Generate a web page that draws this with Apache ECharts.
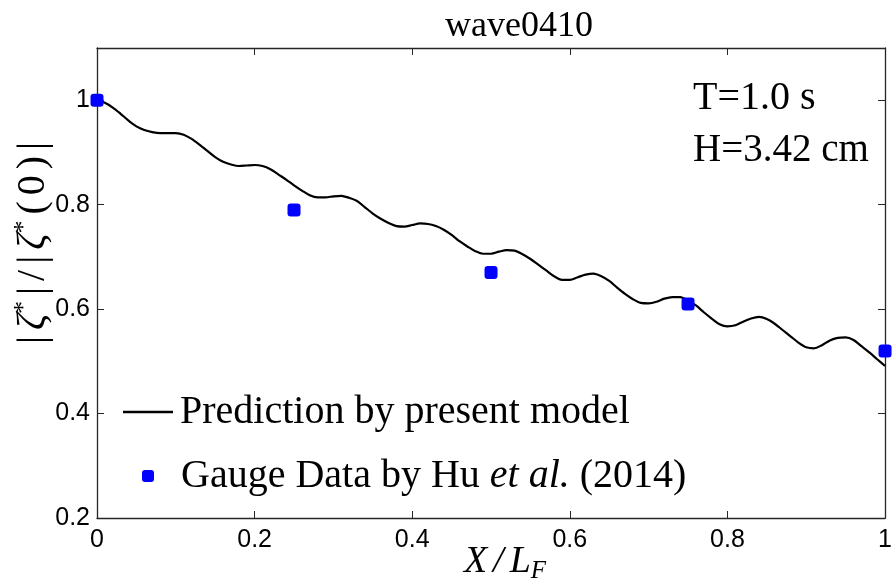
<!DOCTYPE html>
<html>
<head>
<meta charset="utf-8">
<script src="https://cdn.jsdelivr.net/npm/echarts@6/dist/echarts.min.js"></script>
<style>
html,body{margin:0;padding:0;background:#fff;}
#chart{width:895px;height:581px;}
</style>
</head>
<body>
<div id="chart"></div>
<script>
// Prediction curve sampled at X/L_F = 0.00, 0.01, ..., 1.00
const predStep = 0.01;
const predValues = [
  1.000, 0.995, 0.986, 0.974, 0.961, 0.950, 0.943, 0.939, 0.937, 0.937,
  0.937, 0.934, 0.926, 0.915, 0.903, 0.891, 0.882, 0.877, 0.874, 0.875,
  0.876, 0.874, 0.868, 0.858, 0.848, 0.837, 0.827, 0.818, 0.814, 0.814,
  0.816, 0.817, 0.813, 0.807, 0.795, 0.783, 0.773, 0.765, 0.759, 0.758,
  0.761, 0.764, 0.763, 0.759, 0.752, 0.742, 0.730, 0.720, 0.711, 0.706,
  0.706, 0.710, 0.713, 0.712, 0.705, 0.696, 0.685, 0.674, 0.663, 0.656,
  0.656, 0.661, 0.666, 0.668, 0.663, 0.654, 0.641, 0.629, 0.619, 0.612,
  0.611, 0.614, 0.620, 0.623, 0.623, 0.616, 0.607, 0.594, 0.582, 0.571,
  0.567, 0.569, 0.576, 0.582, 0.585, 0.581, 0.572, 0.560, 0.548, 0.536,
  0.527, 0.525, 0.531, 0.540, 0.545, 0.546, 0.541, 0.529, 0.517, 0.504,
  0.491
];
const gaugeX = [0, 0.25, 0.5, 0.75, 1.0];
const gaugeY = [1.0, 0.79, 0.67, 0.61, 0.52];
const xTicks = [0, 0.2, 0.4, 0.6, 0.8, 1];
const yTicks = [0.2, 0.4, 0.6, 0.8, 1];
const titleText = 'wave0410';
const lineName = 'Prediction by present model';
const gaugeName = 'Gauge Data by Hu et al. (2014)';
const noteLines = ['T=1.0 s', 'H=3.42 cm'];

const predData = predValues.map((v, i) => [+(i * predStep).toFixed(2), v]);
const gaugeData = gaugeX.map((x, i) => [x, gaugeY[i]]);

const serif = '"Liberation Serif", "DejaVu Serif", serif';
const sans = '"Liberation Sans", Arial, sans-serif';
const axisColor = '#262626';

const chart = echarts.init(document.getElementById('chart'), null, {renderer: 'canvas'});
const fmt = v => {
  const r = Math.round(v * 10) / 10;
  return yTicks.concat(xTicks).some(t => Math.abs(t - r) < 1e-9) ? String(+r.toFixed(1)) : '';
};
const commonTick = {show: true, inside: true, length: 7, lineStyle: {color: axisColor, width: 1}};
const commonLine = {show: true, onZero: false, lineStyle: {color: axisColor, width: 1.3}};

const txt = (fs, extra) => Object.assign({fontFamily: serif, fontSize: fs, fill: '#000', color: '#000'}, extra || {});

chart.setOption({
  animation: false,
  backgroundColor: '#fff',
  grid: {left: 97, right: 3, top: 48, bottom: 63, containLabel: false},
  title: {
    text: titleText, left: 514, top: 4, textAlign: 'center',
    textStyle: {fontFamily: serif, fontSize: 36, fontWeight: 'normal', color: '#000'}
  },
  xAxis: [{
    type: 'value', min: 0, max: 1, interval: 0.2, position: 'bottom',
    axisLine: commonLine, axisTick: commonTick, splitLine: {show: false},
    axisLabel: {show: true, margin: 10, fontFamily: sans, fontSize: 25, color: '#000', formatter: fmt}
  }, {
    type: 'value', min: 0, max: 1, interval: 0.2, position: 'top',
    axisLine: commonLine, axisTick: commonTick, splitLine: {show: false},
    axisLabel: {show: false}
  }],
  yAxis: [{
    type: 'value', min: 0.2, max: 1.1, interval: 0.2, position: 'left',
    axisLine: commonLine, axisTick: commonTick, splitLine: {show: false},
    axisLabel: {show: true, margin: 7, fontFamily: sans, fontSize: 25, color: '#000', formatter: fmt, showMaxLabel: false}
  }, {
    type: 'value', min: 0.2, max: 1.1, interval: 0.2, position: 'right',
    axisLine: commonLine, axisTick: commonTick, splitLine: {show: false},
    axisLabel: {show: false}
  }],
  legend: [{
    data: [{name: lineName, icon: 'rect'}], left: 123, top: 390, orient: 'vertical', padding: 0,
    itemWidth: 50, itemHeight: 2.5, itemGap: 0,
    itemStyle: {color: '#000', borderWidth: 0},
    textStyle: {fontFamily: serif, fontSize: 40, color: '#000', lineHeight: 44, padding: [0, 0, 0, 2]}
  }, {
    data: [gaugeName], left: 142, top: 454, orient: 'vertical', padding: 0,
    itemWidth: 12, itemHeight: 12, itemGap: 0,
    formatter: () => '{sp|}{a|Gauge Data by Hu }{b|et al.}{a| (2014)}',
    textStyle: {
      fontFamily: serif, fontSize: 40, color: '#000', lineHeight: 44,
      rich: {
        sp: {width: 22},
        a: {fontFamily: serif, fontSize: 40, color: '#000', lineHeight: 44},
        b: {fontFamily: serif, fontSize: 40, fontStyle: 'italic', color: '#000', lineHeight: 44}
      }
    }
  }],
  graphic: [
    {type: 'text', x: 693, y: 98, style: txt(40, {text: noteLines[0], verticalAlign: 'middle'})},
    {type: 'text', x: 693, y: 151, style: txt(39, {text: noteLines[1], verticalAlign: 'middle'})},
    {
      type: 'text', x: 505, y: 562, style: {
        text: '{i|X}{p|/}{i|L}{s|F}', align: 'center', verticalAlign: 'middle',
        rich: {
          i: txt(38, {fontStyle: 'italic', lineHeight: 44, verticalAlign: 'middle'}),
          p: txt(38, {fontStyle: 'italic', lineHeight: 44, verticalAlign: 'middle', padding: [0, 6, 0, 6]}),
          s: txt(25, {fontStyle: 'italic', lineHeight: 26, verticalAlign: 'bottom'})
        }
      }
    },
    {
      type: 'text', x: 33, y: 243, rotation: Math.PI / 2, style: {
        text: '{n||}{i|ζ}{s|*}{n||}{n|/}{n||}{i|ζ}{s|*}{n|(}{n|0}{n|)}{n||}', align: 'center', verticalAlign: 'middle',
        rich: {
          n: txt(40, {lineHeight: 44, verticalAlign: 'middle', padding: [0, 3, 0, 3]}),
          i: txt(40, {fontStyle: 'italic', lineHeight: 44, verticalAlign: 'middle', padding: [0, 0, 0, 3]}),
          s: txt(26, {lineHeight: 26, verticalAlign: 'top', padding: [0, 3, 0, 0]})
        }
      }
    }
  ],
  series: [{
    name: lineName, type: 'line', data: predData, xAxisIndex: 0, yAxisIndex: 0,
    showSymbol: false, symbol: 'none', smooth: 0.3,
    lineStyle: {color: '#000', width: 2.2}, itemStyle: {color: '#000'}, z: 2
  }, {
    name: gaugeName, type: 'scatter', data: gaugeData, xAxisIndex: 0, yAxisIndex: 0,
    symbol: 'roundRect', symbolSize: 13, clip: false,
    itemStyle: {color: '#0000ff', opacity: 1}, z: 3
  }]
});
</script>
</body>
</html>
